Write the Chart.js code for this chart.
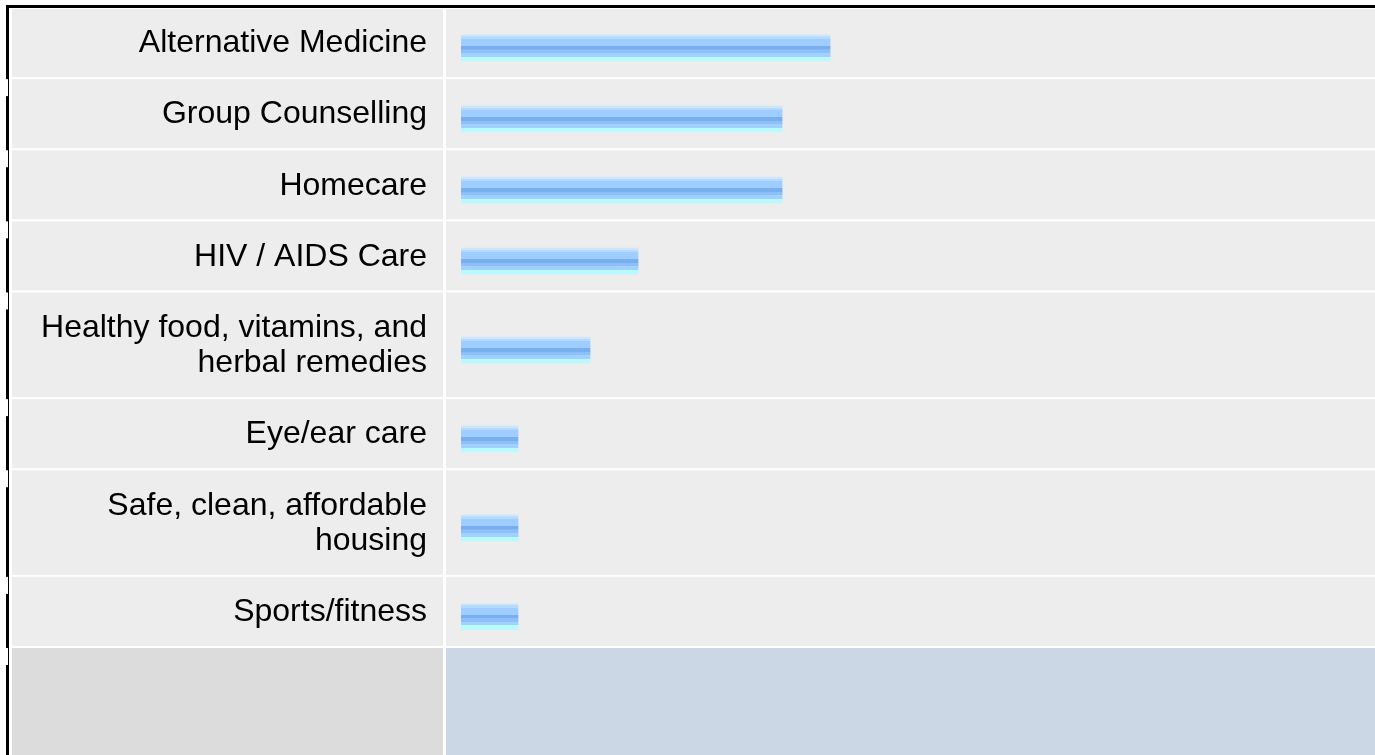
<!DOCTYPE html>
<html>
<head>
<meta charset="utf-8">
<title>Services wanted</title>
<script src="https://cdn.jsdelivr.net/npm/chart.js@4/dist/chart.umd.min.js"></script>
<style>
  html, body { margin: 0; padding: 0; background: #fff; }
  canvas { display: block; }
</style>
</head>
<body>
<canvas id="chart" width="1375" height="755"></canvas>
<script>
// service names (arrays = wrapped onto two lines) and number of responses
const categories = [
  'Alternative Medicine',
  'Group Counselling',
  'Homecare',
  'HIV / AIDS Care',
  ['Healthy food, vitamins, and', 'herbal remedies'],
  'Eye/ear care',
  ['Safe, clean, affordable', 'housing'],
  'Sports/fitness'
];
const counts = [15, 13, 13, 7, 5, 2, 2, 2];

// every bar starts with a short stub so small counts stay visible
const BAR_STUB = 0.375;
const X_MAX = 37.7;
// bars sit a little below the middle of their row
const BAR_DROP = 0.12;

const ROW_GRAY = '#ededed';
const FOOT_LEFT = '#dcdcdc';
const FOOT_RIGHT = '#cbd7e5';
const BAR_BANDS = [
  [0.000, '#d0e5f8'],
  [0.065, '#b4dafe'],
  [0.154, '#9fcdff'],
  [0.423, '#79aeef'],
  [0.565, '#8cc0f8'],
  [0.705, '#a2d0ff'],
  [0.835, '#b8fbff']
];

// a row is one unit taller than its number of label lines
const rowUnits = categories.map(c => (Array.isArray(c) ? c.length : 1) + 1);
const rowStarts = [];
let total = 0;
rowUnits.forEach(u => { rowStarts.push(total); total += u; });
const rowCenters = rowStarts.map((s, i) => s + rowUnits[i] / 2);

const points = counts.map((v, i) => ({ x: v, y: rowCenters[i] + BAR_DROP }));

// striped glossy fill, built per bar around its own centre line
function barGradient(ctx) {
  const chart = ctx.chart;
  const yScale = chart.scales.y;
  if (!yScale || !ctx.raw) return BAR_BANDS[3][1];
  const mid = yScale.getPixelForValue(ctx.raw.y);
  if (!isFinite(mid)) return BAR_BANDS[3][1];
  const half = 13;
  const g = chart.ctx.createLinearGradient(0, mid - half, 0, mid + half);
  BAR_BANDS.forEach(([at, col], i) => {
    const next = i < BAR_BANDS.length - 1 ? BAR_BANDS[i + 1][0] : 1;
    g.addColorStop(at, col);
    g.addColorStop(Math.max(at, next - 0.001), col);
  });
  return g;
}

// table look: grey cells, white gaps, black frame on top and left
const tableBackground = {
  id: 'tableBackground',
  beforeDraw(chart) {
    const { ctx, chartArea, width, height } = chart;
    const y = chart.scales.y;
    const labelLeft = 12;
    const labelRight = chartArea.left - 18;
    const barLeft = chartArea.left - 15;

    ctx.save();
    ctx.fillStyle = '#fff';
    ctx.fillRect(0, 0, width, height);

    const edges = rowStarts.concat([total]).map(v => y.getPixelForValue(v));
    ctx.fillStyle = ROW_GRAY;
    for (let i = 0; i < categories.length; i++) {
      const top = Math.max(edges[i], 9);
      const bottom = edges[i + 1] - 2;
      ctx.fillRect(labelLeft, top, labelRight - labelLeft, bottom - top);
      ctx.fillRect(barLeft, top, width - barLeft, bottom - top);
    }
    const footTop = edges[edges.length - 1];
    ctx.fillStyle = FOOT_LEFT;
    ctx.fillRect(labelLeft, footTop, labelRight - labelLeft, height - footTop);
    ctx.fillStyle = FOOT_RIGHT;
    ctx.fillRect(barLeft, footTop, width - barLeft, height - footTop);

    ctx.fillStyle = '#000';
    ctx.fillRect(6, 5, width - 6, 3);
    ctx.fillRect(6, 5, 3, height - 5);
    ctx.fillStyle = '#fff';
    edges.slice(1).forEach(e => ctx.fillRect(6, e, 2, 17));
    ctx.restore();
  }
};

new Chart(document.getElementById('chart'), {
  type: 'bar',
  data: {
    datasets: [{
      data: points,
      base: -BAR_STUB,
      barThickness: 26,
      borderWidth: 0,
      backgroundColor: barGradient
    }]
  },
  options: {
    indexAxis: 'y',
    responsive: false,
    animation: false,
    events: [],
    layout: { padding: { top: 8, bottom: 107, left: 0, right: 0 } },
    plugins: {
      legend: { display: false },
      tooltip: { enabled: false }
    },
    scales: {
      x: {
        type: 'linear',
        display: false,
        min: -BAR_STUB,
        max: X_MAX
      },
      y: {
        type: 'linear',
        reverse: true,
        offset: false,
        min: 0,
        max: total,
        grid: { display: false, drawTicks: false, offset: false },
        border: { display: false },
        afterBuildTicks(scale) {
          scale.ticks = rowCenters.map(v => ({ value: v }));
        },
        afterFit(scale) {
          // fixed label column; labels never stick out past the rows
          scale.width = 461;
          scale.paddingTop = 0;
          scale.paddingBottom = 0;
        },
        ticks: {
          autoSkip: false,
          padding: 34,
          color: '#000',
          font: { family: 'Liberation Sans, Arial, sans-serif', size: 32, lineHeight: 1.1 },
          callback: (value, index) => categories[index]
        }
      }
    }
  },
  plugins: [tableBackground]
});
</script>
</body>
</html>
